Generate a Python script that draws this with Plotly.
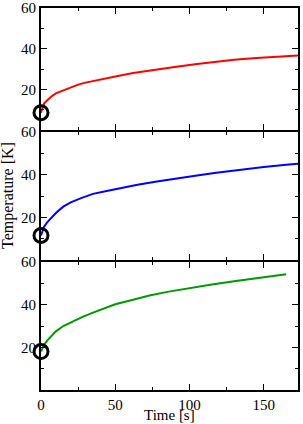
import plotly.graph_objects as go

# ---- data ----
red_t = [0, 1, 2, 4, 7, 10, 15, 18, 25, 30, 40, 50, 62, 75, 90, 105, 118, 130, 145, 160, 173]
red_v = [8.5, 11.5, 13, 14.5, 16.5, 18, 19.5, 20.1, 22.3, 23.3, 24.9, 26.3, 28.0, 29.5, 31, 32.5, 33.7, 34.5, 35.4, 36.1, 36.6]

blue_t = [0, 1, 2, 4, 6.5, 10, 15, 20, 27, 35, 45, 55, 65, 78, 90, 105, 118, 135, 150, 165, 173]
blue_v = [11.5, 14, 15.5, 17.5, 19.5, 22, 25, 27, 29, 31, 32.5, 34, 35.3, 36.8, 38.2, 39.6, 40.9, 42.5, 43.6, 44.6, 45.1]

green_t = [0, 1, 2, 4, 6.5, 10, 15, 20, 28, 35, 40, 50, 62, 73, 85, 100, 115, 130, 145, 158, 165]
green_v = [18, 19.5, 21, 23, 25, 27.5, 30, 31.8, 34.3, 36.3, 37.7, 40.2, 42.3, 44.3, 46, 47.8, 49.5, 51, 52.5, 53.7, 54.3]

x_ticks = [0, 50, 100, 150]
x_minor = [25, 75, 125]
y_ticks = [20, 40, 60]
y_minor = [10, 30, 50]

series = [(red_t, red_v, "#ff0000"), (blue_t, blue_v, "#0000ff"), (green_t, green_v, "#009900")]
H = 382.0
domains = [[260 / H, 1.0], [130 / H, 258 / H], [0.0, 128 / H]]

FONT = "Liberation Serif"
fig = go.Figure()
for i, (t, v, c) in enumerate(series):
    n = "" if i == 0 else str(i + 1)
    fig.add_trace(go.Scatter(x=t, y=v, mode="lines", line=dict(color=c, width=2),
                             xaxis="x" + n, yaxis="y" + n, showlegend=False))
    fig.add_trace(go.Scatter(x=[t[0]], y=[v[0]], mode="markers",
                             marker=dict(symbol="circle-open", size=14, color="black",
                                         line=dict(width=3, color="black")),
                             cliponaxis=False, xaxis="x" + n, yaxis="y" + n, showlegend=False))
    common = dict(showline=True, linecolor="black", linewidth=2, mirror="allticks",
                  ticks="inside", tickcolor="black", tickwidth=1, ticklen=6,
                  showgrid=False, zeroline=False, automargin=False,
                  ticklabeloverflow="allow",
                  tickfont=dict(family=FONT, size=15, color="black"))
    fig.update_layout(**{
        "xaxis" + n: dict(range=[0, 173], domain=[0, 1], anchor="y" + n,
                          tickmode="array", tickvals=x_ticks, showticklabels=(i == 2),
                          minor=dict(tickmode="array", tickvals=x_minor, ticks="inside",
                                     ticklen=3, tickcolor="black", tickwidth=1, showgrid=False),
                          **common),
        "yaxis" + n: dict(range=[0, 60], domain=domains[i], anchor="x" + n,
                          tickmode="array", tickvals=y_ticks,
                          minor=dict(tickmode="array", tickvals=y_minor, ticks="inside",
                                     ticklen=3, tickcolor="black", tickwidth=1, showgrid=False),
                          **common),
    })

fig.update_layout(
    width=303, height=424,
    margin=dict(l=41, r=5, t=8, b=34, autoexpand=False),
    paper_bgcolor="white", plot_bgcolor="white",
    annotations=[
        dict(text="Temperature [K]", textangle=-90, xref="paper", yref="paper",
             x=-0.1284, y=0.508, xanchor="center", yanchor="middle", showarrow=False,
             font=dict(family=FONT, size=16, color="black")),
        dict(text="Time [s]", xref="paper", yref="paper", x=0.5, y=-0.089,
             xanchor="center", yanchor="bottom", showarrow=False, borderpad=0,
             font=dict(family=FONT, size=15, color="black")),
    ],
)

fig.write_html("out.html", config={"displayModeBar": False},
               post_script="document.body.style.margin='0px';")
